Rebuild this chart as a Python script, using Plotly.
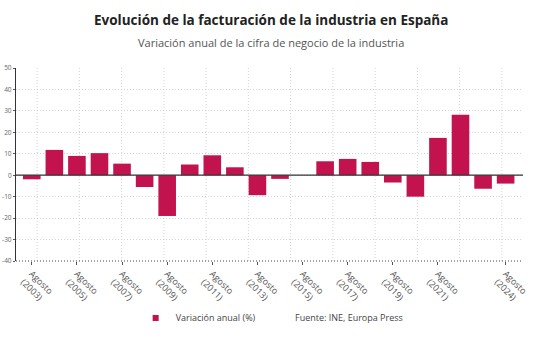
import plotly.graph_objects as go

# Year-on-year change in industrial turnover (August of each year), %
years = list(range(2003, 2025))
variacion = [-1.9, 11.8, 9.0, 10.3, 5.4, -5.5, -19.0, 5.0, 9.3, 3.7, -9.3, -1.7,
             0.0, 6.5, 7.6, 6.2, -3.4, -10.0, 17.4, 28.2, -6.3, -3.9]

tick_years = [2003, 2005, 2007, 2009, 2011, 2013, 2015, 2017, 2019, 2021, 2024]
tick_text = [f"Agosto<br>({y})" for y in tick_years]
y_ticks = [50, 40, 30, 20, 10, 0, -10, -20, -30, -40]
y_tick_text = [str(v) for v in y_ticks]

BAR = "#c2134f"
FONT = "Open Sans"
DOTS = "1px,2px"

fig = go.Figure()
fig.add_trace(go.Bar(
    x=years, y=variacion, name="Variación anual (%)",
    marker=dict(color=BAR, line=dict(width=0)), showlegend=False,
))
# compact square key for the legend
fig.add_trace(go.Scatter(
    x=[None], y=[None], mode="markers", name="Variación anual (%)",
    marker=dict(symbol="square", size=6, color=BAR),
))

# evenly spaced dotted vertical guides across the plotting area
shapes = []
for k in range(12):
    xp = (k + 0.5) / 12
    shapes.append(dict(type="line", xref="paper", yref="paper", x0=xp, x1=xp,
                       y0=0, y1=1, layer="below",
                       line=dict(color="#d4d4d4", width=1, dash=DOTS)))
# zero baseline
shapes.append(dict(type="line", xref="paper", yref="y", x0=0, x1=1, y0=0, y1=0,
                   layer="above", line=dict(color="#333333", width=1.2)))
# dotted bottom axis
shapes.append(dict(type="line", xref="paper", yref="paper", x0=0, x1=1, y0=0, y1=0,
                   line=dict(color="#444444", width=1, dash=DOTS)))

fig.update_layout(
    width=540, height=340,
    margin=dict(l=16, r=17, t=68, b=79, autoexpand=False),
    paper_bgcolor="white", plot_bgcolor="white",
    font=dict(family=FONT, color="#555555", size=9),
    bargap=0.22,
    showlegend=True,
    legend=dict(orientation="h", x=0.236, y=-0.295, xanchor="left", yanchor="middle",
                font=dict(size=9, color="#444444"), itemwidth=30,
                bgcolor="rgba(0,0,0,0)"),
    shapes=shapes,
    annotations=[
        dict(text="<b>Evolución de la facturación de la industria en España</b>",
             xref="paper", yref="paper", x=0.502, y=1.0, yshift=48,
             xanchor="center", yanchor="middle", showarrow=False,
             font=dict(size=13.5, color="#222222", family=FONT)),
        dict(text="Variación anual de la cifra de negocio de la industria",
             xref="paper", yref="paper", x=0.502, y=1.0, yshift=26,
             xanchor="center", yanchor="middle", showarrow=False,
             font=dict(size=11, color="#555555", family=FONT)),
        dict(text="Fuente: INE, Europa Press",
             xref="paper", yref="paper", x=0.546, y=-0.295,
             xanchor="left", yanchor="middle", showarrow=False,
             font=dict(size=9, color="#444444", family=FONT)),
    ],
)

fig.update_xaxes(
    range=[2002.3, 2024.77], automargin=False,
    tickmode="array", tickvals=tick_years, ticktext=tick_text,
    tickangle=45, tickfont=dict(size=9, color="#555555"),
    ticks="outside", ticklen=3, tickcolor="#555555",
    showgrid=False, zeroline=False, showline=False,
)
fig.update_yaxes(
    range=[-40, 50], automargin=False, tickmode="array",
    tickvals=y_ticks, ticktext=y_tick_text,
    tickfont=dict(size=6.5, color="#666666"),
    ticks="outside", ticklen=2, tickcolor="#555555",
    showgrid=True, gridcolor="#d4d4d4", griddash=DOTS, gridwidth=1,
    zeroline=False, showline=True, linecolor="#333333", linewidth=1.2,
)

fig.write_html("out.html")
